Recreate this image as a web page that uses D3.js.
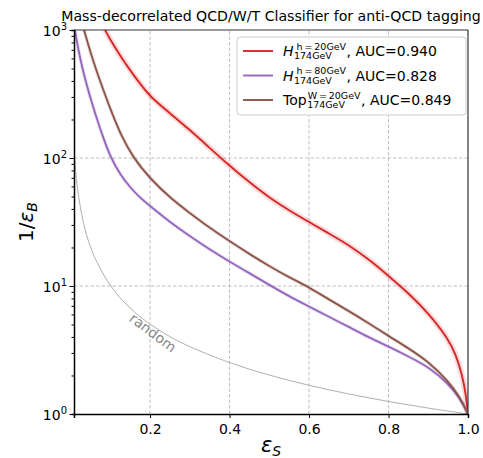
<!DOCTYPE html>
<html>
  <head>
    <title>anti-QCD tagging ROC</title>
    <style>
      body { margin: 0; background: #fff; }
      text { font-family: "DejaVu Sans", sans-serif; }
      .grid line { stroke: #b0b0b0; stroke-width: 0.8px; stroke-dasharray: 3.5,2; }
    </style>
    <script src="https://d3js.org/d3.v7.min.js"></script>
  </head>
  <body>
    <div id="chart"></div>
    <script type="text/javascript">
      // values: [signal efficiency, 1/background efficiency]
      var redH20 = [[0.087,1000],[0.10,841],[0.125,631],[0.15,484],[0.175,380],[0.2,302],[0.25,224],[0.3,166],
                    [0.35,120],[0.4,87],[0.45,64.6],[0.5,49],[0.55,38.9],[0.6,31.6],[0.65,25.7],[0.7,20.9],
                    [0.75,16.2],[0.8,12.0],[0.85,8.81],[0.9,6.17],[0.95,3.89],[0.97,2.88],[0.985,2.04],
                    [0.995,1.41],[1.0,1.0]];
      var purpleH80 = [[0.011,1000],[0.02,692],[0.03,501],[0.04,380],[0.05,295],[0.066,204],[0.08,151],[0.1,102],
                       [0.125,74.1],[0.15,58.9],[0.175,49.0],[0.2,42.2],[0.25,31.6],[0.3,24.5],[0.35,19.3],
                       [0.4,15.5],[0.45,12.6],[0.5,10.2],[0.55,8.32],[0.6,6.92],[0.65,5.75],[0.7,4.79],
                       [0.75,3.98],[0.8,3.36],[0.85,2.82],[0.9,2.34],[0.95,1.74],[0.98,1.32],[1.0,1.0]];
      var brownTop = [[0.034,1000],[0.045,759],[0.057,575],[0.07,437],[0.085,324],[0.1,243],[0.125,155],[0.158,100],
                      [0.2,69.2],[0.25,49.0],[0.3,37.2],[0.35,28.5],[0.4,22.4],[0.45,17.8],[0.5,14.3],[0.55,11.7],
                      [0.6,9.77],[0.65,7.85],[0.7,6.38],[0.75,5.13],[0.8,4.07],[0.85,3.27],[0.9,2.57],[0.95,1.82],
                      [0.98,1.35],[1.0,1.0]];
      var randomCut = [[0.0088,113.6],[0.01,100],[0.015,66.7],[0.02,50],[0.03,33.3],[0.04,25],[0.05,20],[0.07,14.3],
                       [0.1,10],[0.13,7.69],[0.16,6.25],[0.2,5],[0.25,4],[0.3,3.33],[0.4,2.5],[0.5,2],
                       [0.6,1.67],[0.7,1.43],[0.8,1.25],[0.9,1.11],[1.0,1.0]];

      var seriesNames = ["H", "H", "Top"];
      var seriesSup   = ["h\u2009=\u200920GeV", "h\u2009=\u200980GeV", "W\u2009=\u200920GeV"];
      var seriesSub   = ["174GeV", "174GeV", "174GeV"];
      var seriesAuc   = ["0.940", "0.828", "0.849"];
      var seriesColor = ["#d62728", "#9467bd", "#8c564b"];
      var seriesData  = [redH20, purpleH80, brownTop];

      var xTicks = [0.2, 0.4, 0.6, 0.8, 1.0];
      var yMajor = [1, 10, 100, 1000];
      var yExp   = ["0", "1", "2", "3"];

      var width = 483, height = 458,
          margin = {left: 74, right: 15, top: 30, bottom: 44};

      var svg = d3.select("#chart").append("svg")
          .attr("width", width)
          .attr("height", height);

      var x = d3.scaleLinear().domain([0.0088, 1.0]).range([margin.left, width - margin.right]);
      var y = d3.scaleLog().domain([1, 1000]).range([height - margin.bottom, margin.top]);

      var x0 = x.range()[0], x1 = x.range()[1], y0 = y.range()[0], y1 = y.range()[1];

      svg.append("defs").append("clipPath").attr("id", "plotclip")
        .append("rect").attr("x", x0).attr("y", y1).attr("width", x1 - x0).attr("height", y0 - y1);

      // grid
      var grid = svg.append("g").attr("class", "grid");
      grid.selectAll(".gx").data(xTicks.slice(0, 4)).enter().append("line")
        .attr("x1", function(d){return x(d);}).attr("x2", function(d){return x(d);})
        .attr("y1", y0).attr("y2", y1);
      grid.selectAll(".gy").data(yMajor.slice(1, 3)).enter().append("line")
        .attr("x1", x0).attr("x2", x1)
        .attr("y1", function(d){return y(d);}).attr("y2", function(d){return y(d);});

      var line = d3.line()
          .x(function(d){return x(d[0]);})
          .y(function(d){return y(d[1]);})
          .curve(d3.curveBasis);

      var plot = svg.append("g").attr("clip-path", "url(#plotclip)");

      plot.append("path").datum(randomCut)
        .attr("d", line).attr("fill", "none")
        .attr("stroke", "#999").attr("stroke-width", 0.8);

      seriesData.forEach(function(data, i) {
        plot.append("path").datum(data)
          .attr("d", line).attr("fill", "none")
          .attr("stroke", seriesColor[i]).attr("stroke-opacity", 0.16)
          .attr("stroke-width", i === 0 ? 6 : 4);
        plot.append("path").datum(data)
          .attr("d", line).attr("fill", "none")
          .attr("stroke", seriesColor[i]).attr("stroke-width", 1.9);
      });

      svg.append("text")
        .attr("transform", "translate(" + x(0.2) + "," + (y(5) + 12) + ") rotate(37)")
        .attr("text-anchor", "middle")
        .attr("font-size", 14)
        .attr("fill", "#888")
        .text("random");

      // spines
      svg.append("line").attr("x1", x0).attr("x2", x1).attr("y1", y1).attr("y2", y1)
        .attr("stroke", "#333").attr("stroke-width", 1.2);
      svg.append("line").attr("x1", x1).attr("x2", x1).attr("y1", y1).attr("y2", y0)
        .attr("stroke", "#333").attr("stroke-width", 1.2);

      var xAxis = svg.append("g")
        .attr("transform", "translate(0," + y0 + ")")
        .call(d3.axisBottom(x).tickValues(xTicks).tickFormat(d3.format(".1f")).tickSizeOuter(0).tickSize(4));
      xAxis.select(".domain").attr("stroke", "#000").attr("stroke-width", 1.5);
      xAxis.selectAll(".tick text").attr("font-size", 14).attr("font-family", "DejaVu Sans").attr("dy", "0.9em");

      var minor = [];
      [1, 10, 100].forEach(function(b) {
        for (var k = 2; k <= 9; k++) minor.push(b * k);
      });

      var yAxis = svg.append("g")
        .attr("transform", "translate(" + x0 + ",0)")
        .call(d3.axisLeft(y).tickValues(minor).tickFormat("").tickSizeOuter(0).tickSize(2.5));
      yAxis.select(".domain").attr("stroke", "#000").attr("stroke-width", 1.5);

      var yMaj = svg.append("g")
        .attr("transform", "translate(" + x0 + ",0)")
        .call(d3.axisLeft(y).tickValues(yMajor).tickFormat("").tickSizeOuter(0).tickSize(4.5));
      yMaj.select(".domain").remove();
      yMaj.selectAll(".tick").each(function(d, i) {
        var t = d3.select(this).append("text")
          .attr("x", -7).attr("dy", "0.4em")
          .attr("text-anchor", "end")
          .attr("fill", "#000")
          .attr("font-size", 14)
          .attr("font-family", "DejaVu Sans");
        t.append("tspan").text("10");
        t.append("tspan").attr("font-size", 10).attr("dy", "-0.6em").text(yExp[i]);
      });

      // title and axis labels
      svg.append("text")
        .attr("x", (x0 + x1) / 2).attr("y", 21)
        .attr("text-anchor", "middle")
        .attr("font-size", 14.15)
        .text("Mass-decorrelated QCD/W/T Classifier for anti-QCD tagging");

      var yl = svg.append("text")
        .attr("transform", "translate(33," + ((y0 + y1) / 2) + ") rotate(-90)")
        .attr("text-anchor", "middle")
        .attr("font-size", 20);
      yl.append("tspan").text("1/");
      yl.append("tspan").attr("font-style", "italic").text("ε");
      yl.append("tspan").attr("font-style", "italic").attr("font-size", 14).attr("dy", "0.3em").text("B");

      var xl = svg.append("text")
        .attr("x", (x0 + x1) / 2).attr("y", 452)
        .attr("text-anchor", "middle")
        .attr("font-size", 21);
      xl.append("tspan").attr("font-style", "italic").text("ε");
      xl.append("tspan").attr("font-style", "italic").attr("font-size", 14).attr("dy", "0.3em").text("S");

      // legend
      var lg = svg.append("g");
      lg.append("rect")
        .attr("x", 237).attr("y", 37).attr("width", 229).attr("height", 78)
        .attr("rx", 3).attr("ry", 3)
        .attr("fill", "#fff").attr("fill-opacity", 0.85)
        .attr("stroke", "#ccc").attr("stroke-width", 1);

      seriesNames.forEach(function(name, i) {
        var ry = 51 + i * 24.5;
        lg.append("line")
          .attr("x1", 243).attr("x2", 273).attr("y1", ry).attr("y2", ry)
          .attr("stroke", seriesColor[i]).attr("stroke-width", 1.9);
        var base = ry + 5;
        var main = lg.append("text").attr("x", 283).attr("y", base).attr("font-size", 14)
          .attr("font-style", name === "H" ? "italic" : "normal").text(name);
        var xs = 283 + main.node().getComputedTextLength() + 0.5;
        var sup = lg.append("text").attr("x", xs + (name === "H" ? 2.5 : 0.5)).attr("y", base - 6.5)
          .attr("font-size", 9.5).text(seriesSup[i]);
        var sub = lg.append("text").attr("x", xs).attr("y", base + 3)
          .attr("font-size", 9.5).text(seriesSub[i]);
        var w = Math.max(sup.node().getComputedTextLength() + (name === "H" ? 2.5 : 0.5),
                         sub.node().getComputedTextLength());
        lg.append("text").attr("x", xs + w + 0.5).attr("y", base).attr("font-size", 14)
          .text(", AUC=" + seriesAuc[i]);
      });
    </script>
  </body>
</html>
